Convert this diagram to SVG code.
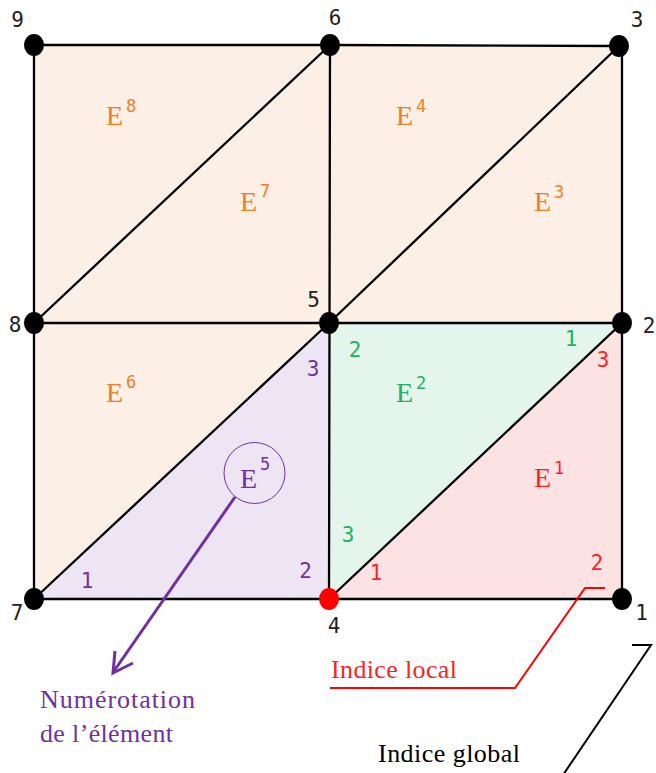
<svg xmlns="http://www.w3.org/2000/svg" width="656" height="773" viewBox="0 0 656 773">
<style>
.edge{stroke:#000;stroke-width:2.3;fill:none;stroke-linecap:round}
.node{fill:#000}
.num{font-family:"DejaVu Sans Mono",monospace;font-size:21px;text-anchor:middle}
.gl{fill:#222}
.E{font-family:"Liberation Serif",serif;font-size:28px}
.sup{font-family:"DejaVu Sans Mono",monospace;font-size:17px}
.ser{font-family:"Liberation Serif",serif;font-size:26px}
.or{fill:#f07e22}
.gr{fill:#22b062}
.rd{fill:#ff1f1f}
.pu{fill:#7030a0}
</style>
<g id="elements">
<polygon id="E8" points="34,45 330,45 34,323" fill="#fcefe5"/>
<polygon id="E7" points="330,45 329,323 34,323" fill="#fcefe5"/>
<polygon id="E4" points="330,45 619,46 329,323" fill="#fcefe5"/>
<polygon id="E3" points="619,46 622,47 622,323 329,323" fill="#fcefe5"/>
<polygon id="E6" points="34,323 329,323 34,599" fill="#fcefe5"/>
<polygon id="E5" points="34,599 329,323 329,599" fill="#ede5f3"/>
<polygon id="E2" points="329,323 622,323 329,599" fill="#e4f5eb"/>
<polygon id="E1" points="329,599 622,323 622,599" fill="#fde2e4"/>
</g>
<g id="connectors">
<polyline class="edge" points="34,45 330,45 619,46"/>
<line class="edge" x1="34" y1="323" x2="622" y2="323"/>
<line class="edge" x1="34" y1="599" x2="622" y2="599"/>
<line class="edge" x1="34" y1="45" x2="34" y2="599"/>
<line class="edge" x1="330" y1="45" x2="329" y2="599"/>
<line class="edge" x1="622" y1="47" x2="622" y2="599"/>
<line class="edge" x1="34" y1="323" x2="330" y2="45"/>
<line class="edge" x1="329" y1="323" x2="619" y2="46"/>
<line class="edge" x1="34" y1="599" x2="329" y2="323"/>
<line class="edge" x1="329" y1="599" x2="622" y2="323"/>
<polyline points="605,588 585,588 515,688 330,688" fill="none" stroke="#ff0000" stroke-width="2"/>
<polyline points="632,645 651,645 563,775" fill="none" stroke="#000" stroke-width="2"/>
<line x1="235" y1="497" x2="114" y2="671" stroke="#7030a0" stroke-width="3"/>
<polyline points="115,651 113,673 133,663" fill="none" stroke="#7030a0" stroke-width="3"/>
</g>
<g id="nodes">
<g id="n9"><ellipse class="node" cx="34" cy="45" rx="10" ry="11"/><text class="num gl" x="17.5" y="27">9</text></g>
<g id="n6"><ellipse class="node" cx="330" cy="45" rx="10" ry="11"/><text class="num gl" x="335" y="25">6</text></g>
<g id="n3"><ellipse class="node" cx="619" cy="46" rx="10" ry="11"/><text class="num gl" x="637" y="27">3</text></g>
<g id="n8"><ellipse class="node" cx="34" cy="323" rx="10" ry="11"/><text class="num gl" x="15" y="332">8</text></g>
<g id="n5"><ellipse class="node" cx="329" cy="323" rx="10" ry="11"/><text class="num gl" x="313.5" y="307">5</text></g>
<g id="n2"><ellipse class="node" cx="622" cy="323" rx="10" ry="11"/><text class="num gl" x="649" y="333">2</text></g>
<g id="n7"><ellipse class="node" cx="34" cy="599" rx="10" ry="11"/><text class="num gl" x="17" y="620">7</text></g>
<g id="n4"><ellipse cx="329" cy="599" rx="10" ry="11" fill="#ff0000"/><text class="num gl" x="334" y="633">4</text></g>
<g id="n1"><ellipse class="node" cx="622" cy="599" rx="10" ry="11"/><text class="num gl" x="641.5" y="620">1</text></g>
</g>
<g id="labels">
<text class="E or" x="106" y="125">E</text><text class="sup or" x="126" y="112">8</text>
<text class="E or" x="240" y="211">E</text><text class="sup or" x="260" y="197">7</text>
<text class="E or" x="396" y="125">E</text><text class="sup or" x="416" y="112">4</text>
<text class="E or" x="534" y="211">E</text><text class="sup or" x="554" y="198">3</text>
<text class="E or" x="106" y="402">E</text><text class="sup or" x="126" y="388">6</text>
<text class="E gr" x="396" y="402">E</text><text class="sup gr" x="416" y="389">2</text>
<text class="E rd" x="534" y="487">E</text><text class="sup rd" x="554" y="474">1</text>
<g id="E5label">
<circle cx="254.5" cy="473" r="30.5" fill="none" stroke="#7030a0" stroke-width="1"/>
<text class="E pu" x="240" y="488">E</text><text class="sup pu" x="260" y="470">5</text>
</g>
<text class="num gr" x="571" y="346">1</text>
<text class="num gr" x="355" y="357">2</text>
<text class="num gr" x="348" y="542">3</text>
<text class="num rd" x="603" y="367">3</text>
<text class="num rd" x="597" y="570">2</text>
<text class="num rd" x="376" y="580">1</text>
<text class="num pu" x="313" y="376">3</text>
<text class="num pu" x="305.5" y="578">2</text>
<text class="num pu" x="87" y="588">1</text>
<text class="ser rd" x="331" y="678" textLength="126">Indice local</text>
<text class="ser" x="378" y="762" textLength="142" fill="#000">Indice global</text>
<text class="ser pu" x="40" y="708" textLength="155">Numérotation</text>
<text class="ser pu" x="40" y="742" textLength="133">de l’élément</text>
</g>
</svg>
